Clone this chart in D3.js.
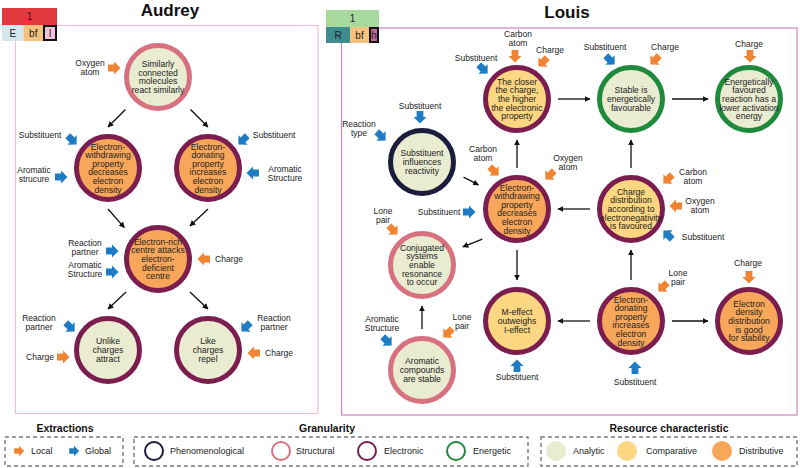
<!DOCTYPE html>
<html><head><meta charset="utf-8">
<script src="https://cdn.jsdelivr.net/npm/d3@7"></script>
<style>body{margin:0;background:#fff} svg{display:block;font-family:"Liberation Sans",Arial,sans-serif}</style>
</head><body><svg id="c" width="800" height="468"></svg>
<script>
// ================= DATA =================
const granularityTypes = ["Phenomenological", "Structural", "Electronic", "Energetic"];
const resourceTypes = ["Analytic", "Comparative", "Distributive"];
const extractionTypes = ["Local", "Global"];

// Audrey concept map (col/row are logical grid cells)
const audreyNodes = [
  {id: "A0", lines: ["Similarly", "connected", "molecules", "react similarly"], gran: "Structural", res: "Analytic", col: 1, row: 0},
  {id: "A1", lines: ["Electron-", "withdrawing", "property", "decreases", "electron", "density"], gran: "Electronic", res: "Distributive", col: 0, row: 1},
  {id: "A2", lines: ["Electron-", "donating", "property", "increases", "electron", "density"], gran: "Electronic", res: "Distributive", col: 2, row: 1},
  {id: "A3", lines: ["Electron-rich", "centre attacks", "electron-", "deficient", "centre"], gran: "Electronic", res: "Distributive", col: 1, row: 2},
  {id: "A4", lines: ["Unlike", "charges", "attract"], gran: "Electronic", res: "Analytic", col: 0, row: 3},
  {id: "A5", lines: ["Like", "charges", "repel"], gran: "Electronic", res: "Analytic", col: 2, row: 3}
];
const audreyEdges = [["A0", "A1"], ["A0", "A2"], ["A1", "A3"], ["A2", "A3"], ["A3", "A4"], ["A3", "A5"]];
const audreyInputs = [
  {node: "A0", label: ["Oxygen", "atom"], type: "Local"},
  {node: "A1", label: ["Substituent"], type: "Global"},
  {node: "A1", label: ["Aromatic", "strucure"], type: "Global"},
  {node: "A2", label: ["Substituent"], type: "Global"},
  {node: "A2", label: ["Aromatic", "Structure"], type: "Global"},
  {node: "A3", label: ["Reaction", "partner"], type: "Global"},
  {node: "A3", label: ["Aromatic", "Structure"], type: "Global"},
  {node: "A3", label: ["Charge"], type: "Local"},
  {node: "A4", label: ["Reaction", "partner"], type: "Global"},
  {node: "A4", label: ["Charge"], type: "Local"},
  {node: "A5", label: ["Reaction", "partner"], type: "Global"},
  {node: "A5", label: ["Charge"], type: "Local"}
];

// Louis concept map
const louisNodes = [
  {id: "L0", lines: ["The closer", "the charge,", "the higher", "the electronic", "property"], gran: "Electronic", res: "Comparative", col: 1, row: 0},
  {id: "L1", lines: ["Stable is", "energetically", "favourable"], gran: "Energetic", res: "Analytic", col: 2, row: 0},
  {id: "L2", lines: ["Energetically", "favoured", "reaction has a", "lower activation", "energy"], gran: "Energetic", res: "Analytic", col: 3, row: 0},
  {id: "L3", lines: ["Substituent", "influences", "reactivity"], gran: "Phenomenological", res: "Analytic", col: 0, row: 1},
  {id: "L4", lines: ["Electron-", "withdrawing", "property", "decreases", "electron", "density"], gran: "Electronic", res: "Distributive", col: 1, row: 2},
  {id: "L5", lines: ["Charge", "distribution", "according to", "electronegativity", "is favoured"], gran: "Electronic", res: "Comparative", col: 2, row: 2},
  {id: "L6", lines: ["Conjugated", "systems", "enable", "resonance", "to occur"], gran: "Structural", res: "Analytic", col: 0, row: 3},
  {id: "L7", lines: ["M-effect", "outweighs", "I-effect"], gran: "Electronic", res: "Comparative", col: 1, row: 4},
  {id: "L8", lines: ["Electron-", "donating", "property", "increases", "electron", "density"], gran: "Electronic", res: "Distributive", col: 2, row: 4},
  {id: "L9", lines: ["Electron", "density", "distribution", "is good", "for stability"], gran: "Electronic", res: "Distributive", col: 3, row: 4},
  {id: "L10", lines: ["Aromatic", "compounds", "are stable"], gran: "Structural", res: "Analytic", col: 0, row: 5}
];
const louisEdges = [["L0", "L1"], ["L1", "L2"], ["L4", "L0"], ["L5", "L1"], ["L3", "L4"], ["L5", "L4"],
  ["L4", "L6"], ["L4", "L7"], ["L8", "L5"], ["L8", "L7"], ["L8", "L9"], ["L10", "L6"]];
const louisInputs = [
  {node: "L0", label: ["Carbon", "atom"], type: "Local"},
  {node: "L0", label: ["Charge"], type: "Local"},
  {node: "L0", label: ["Substituent"], type: "Global"},
  {node: "L1", label: ["Substituent"], type: "Global"},
  {node: "L1", label: ["Charge"], type: "Local"},
  {node: "L2", label: ["Charge"], type: "Local"},
  {node: "L3", label: ["Substituent"], type: "Global"},
  {node: "L3", label: ["Reaction", "type"], type: "Global"},
  {node: "L4", label: ["Carbon", "atom"], type: "Local"},
  {node: "L4", label: ["Oxygen", "atom"], type: "Local"},
  {node: "L4", label: ["Substituent"], type: "Global"},
  {node: "L5", label: ["Carbon", "atom"], type: "Local"},
  {node: "L5", label: ["Oxygen", "atom"], type: "Local"},
  {node: "L5", label: ["Substituent"], type: "Global"},
  {node: "L6", label: ["Lone", "pair"], type: "Local"},
  {node: "L7", label: ["Substituent"], type: "Global"},
  {node: "L8", label: ["Lone", "pair"], type: "Local"},
  {node: "L8", label: ["Substituent"], type: "Global"},
  {node: "L9", label: ["Charge"], type: "Local"},
  {node: "L10", label: ["Aromatic", "Structure"], type: "Global"},
  {node: "L10", label: ["Lone", "pair"], type: "Local"}
];

// header codes
const audreyCode = {top: "1", cells: ["E", "bf", "l"]};
const louisCode = {top: "1", cells: ["R", "bf", "h"]};

// ================= LAYOUT (separate from data) =================
// edge anchor angles (exit on source, entry on target), degrees
const audreyEdgeAnchors = [[135, 270], [45, 270], [90, 223], [90, 314], [134, 270], [46, 270]];
const louisEdgeAnchors = [[0, 180], [0, 180], [270, 90], [270, 90], [20, 212], [180, 0],
  [139, 336], [90, 270], [270, 90], [180, 0], [0, 180], [270, 90]];
// input arrow placement: [dx, dy, direction, labelDx, labelDy]
const audreyInputPlace = [
  [-44, -9, 0, -24, 0], [-36, -28, 45, -32, -5], [-47, 9, 0, -27, -2], [35, -28, 135, 31, -5],
  [45, 5, 180, 32, 1], [-46, -8, 0, -27, -3], [-46, 13, 0, -27, -2], [46, 0, 180, 25, 0],
  [-38, -23, 45, -31, -4], [-45, 7, 0, -23, 0], [38, -23, 135, 28, -4], [46, 3, 180, 25, 0]
];
const louisInputPlace = [
  [-2, -43, 90, 3, -17], [26, -37, 135, 7, -12], [-34, -30, 45, -7, -11],
  [-21, -39, 45, -5, -13], [24, -39, 135, 10, -13], [1, -43, 90, -1, -12],
  [-2, -45, 90, 0, -11], [-41, -26, 45, -22, -7],
  [-23, -38, 45, -11, -17], [33, -34, 135, 18, -12], [-48, 3, 0, -30, 0],
  [37, -30, 135, 25, -2], [45, -3, 180, 24, 0], [37, 26, 225, 35, 2],
  [-29, -35, 45, -10, -14], [0, 45, 270, 0, 11], [32, -34, 135, 15, -9], [4, 47, 270, 0, 14],
  [0, -44, 90, -1, -14], [-35, -29, 45, -5, -17], [26, -37, 135, 14, -11]
];

// ================= SCALES =================
const granColor = d3.scaleOrdinal().domain(granularityTypes).range(["#1c1c3c", "#d8717f", "#7b1d4f", "#1f8a3c"]);
const resColor = d3.scaleOrdinal().domain(resourceTypes).range(["#e9ecd1", "#fcd681", "#f8a75a"]);
const extColor = d3.scaleOrdinal().domain(extractionTypes).range(["#ef8534", "#1d7cc4"]);

const axA = d3.scaleLinear().domain([0, 2]).range([108, 208]);
const ayA = d3.scaleLinear().domain([0, 3]).range([77, 350]);
const lxL = d3.scaleLinear().domain([0, 1, 2, 3]).range([422, 517, 631, 749]);
const lyL = d3.scaleLinear().domain([0, 1, 2, 3, 4, 5]).range([99, 162, 209, 265, 321, 370]);

const svg = d3.select("#c");
const defs = svg.append("defs");
defs.append("marker").attr("id", "ah").attr("viewBox", "0 0 10 10").attr("refX", 9).attr("refY", 5)
  .attr("markerWidth", 6).attr("markerHeight", 6).attr("markerUnits", "userSpaceOnUse").attr("orient", "auto")
  .append("path").attr("d", "M0,0 L10,5 L0,10 z").attr("fill", "#111");

const blockArrow = "M-6,-3.4 L0,-3.4 L0,-6.6 L6.5,0 L0,6.6 L0,3.4 L-6,3.4 Z";
const R = 31.5, LH = 8.6;

function drawPanel(nodes, edges, anchors, inputs, place, xs, ys) {
  const g = svg.append("g");
  const pos = {};
  nodes.forEach(n => pos[n.id] = [xs(n.col), ys(n.row)]);
  const rad = a => a * Math.PI / 180;
  const dist = a => 41 + 5 * Math.abs(Math.sin(2 * rad(a)));
  // edges
  g.selectAll("line.edge").data(edges).join("line").attr("class", "edge")
    .attr("x1", (e, i) => pos[e[0]][0] + dist(anchors[i][0]) * Math.cos(rad(anchors[i][0])))
    .attr("y1", (e, i) => pos[e[0]][1] + dist(anchors[i][0]) * Math.sin(rad(anchors[i][0])))
    .attr("x2", (e, i) => pos[e[1]][0] + dist(anchors[i][1]) * Math.cos(rad(anchors[i][1])))
    .attr("y2", (e, i) => pos[e[1]][1] + dist(anchors[i][1]) * Math.sin(rad(anchors[i][1])))
    .attr("stroke", "#111").attr("stroke-width", 1.3).attr("marker-end", "url(#ah)");
  // nodes
  const ng = g.selectAll("g.node").data(nodes).join("g").attr("class", "node")
    .attr("transform", n => `translate(${pos[n.id][0]},${pos[n.id][1]})`);
  ng.append("circle").attr("r", R).attr("fill", n => resColor(n.res))
    .attr("stroke", n => granColor(n.gran)).attr("stroke-width", 5);
  ng.each(function (n) {
    const t = d3.select(this).append("text").attr("text-anchor", "middle")
      .attr("font-size", 8.6).attr("fill", "#222");
    n.lines.forEach((l, i) => t.append("tspan").attr("x", 0)
      .attr("y", (i - (n.lines.length - 1) / 2) * LH).attr("dy", "0.35em").text(l));
  });
  // inputs
  const ig = g.selectAll("g.inp").data(inputs).join("g").attr("class", "inp");
  ig.append("path").attr("d", blockArrow).attr("fill", d => extColor(d.type))
    .attr("transform", (d, i) => `translate(${pos[d.node][0] + place[i][0]},${pos[d.node][1] + place[i][1]}) rotate(${place[i][2]})`);
  ig.each(function (d, i) {
    const p = place[i];
    const cx = pos[d.node][0] + p[0] + p[3], cy = pos[d.node][1] + p[1] + p[4];
    const t = d3.select(this).append("text").attr("text-anchor", "middle")
      .attr("font-size", 8.5).attr("fill", "#222");
    d.label.forEach((l, k) => t.append("tspan").attr("x", cx)
      .attr("y", cy + (k - (d.label.length - 1) / 2) * 9).attr("dy", "0.35em").text(l));
  });
}

// panels
svg.append("rect").attr("x", 15.5).attr("y", 25.5).attr("width", 302.5).attr("height", 388)
  .attr("fill", "none").attr("stroke", "#efbfdc").attr("stroke-width", 1.2);
svg.append("rect").attr("x", 341.5).attr("y", 28).attr("width", 455.5).attr("height", 387)
  .attr("fill", "none").attr("stroke", "#cc85bb").attr("stroke-width", 1.2);

svg.append("text").attr("x", 170).attr("y", 16).attr("text-anchor", "middle")
  .attr("font-size", 17).attr("font-weight", "bold").attr("fill", "#111").text("Audrey");
svg.append("text").attr("x", 567).attr("y", 17.5).attr("text-anchor", "middle")
  .attr("font-size", 17).attr("font-weight", "bold").attr("fill", "#111").text("Louis");

function drawCode(code, x, y, topFill, cellFills, widths) {
  const g = svg.append("g");
  const total = d3.sum(widths);
  g.append("rect").attr("x", x).attr("y", y).attr("width", total).attr("height", 17).attr("fill", topFill);
  g.append("text").attr("x", x + total / 2).attr("y", y + 8.5).attr("dy", "0.35em").attr("text-anchor", "middle")
    .attr("font-size", 10).attr("fill", "#222").text(code.top);
  let cx = x;
  code.cells.forEach((c, i) => {
    const last = i === code.cells.length - 1;
    g.append("rect").attr("x", cx + (last ? 1 : 0)).attr("y", y + 17 + (last ? 1 : 0))
      .attr("width", widths[i] - (last ? 2 : 0)).attr("height", 16 - (last ? 2 : 0))
      .attr("fill", cellFills[i]).attr("stroke", last ? "#111" : "none").attr("stroke-width", last ? 2 : 0);
    g.append("text").attr("x", cx + widths[i] / 2).attr("y", y + 25.5).attr("dy", "0.35em")
      .attr("text-anchor", "middle").attr("font-size", 10).attr("fill", "#222").text(c);
    cx += widths[i];
  });
}
drawCode(audreyCode, 2, 8, "#e2393f", ["#d5e6ef", "#f6c27f", "#f1c1de"], [21.5, 19.5, 14]);
drawCode(louisCode, 326, 10, "#a7d89c", ["#3e8c90", "#f6c27f", "#c4679a"], [24, 19, 10]);

drawPanel(audreyNodes, audreyEdges, audreyEdgeAnchors, audreyInputs, audreyInputPlace, axA, ayA);
drawPanel(louisNodes, louisEdges, louisEdgeAnchors, louisInputs, louisInputPlace, lxL, lyL);

// ================= LEGEND =================
const leg = svg.append("g");
function legBox(x0, x1, title, tx) {
  leg.append("rect").attr("x", x0).attr("y", 437).attr("width", x1 - x0).attr("height", 29)
    .attr("fill", "none").attr("stroke", "#7a7a7a").attr("stroke-width", 1.4).attr("stroke-dasharray", "4,3");
  leg.append("text").attr("x", tx).attr("y", 432).attr("text-anchor", "middle")
    .attr("font-size", 10.5).attr("font-weight", "bold").attr("fill", "#111").text(title);
}
legBox(5, 123, "Extractions", 65);
legBox(134, 528, "Granularity", 327);
legBox(541, 797, "Resource characteristic", 669);

const extPos = [[19, 31], [74, 85]];
extractionTypes.forEach((t, i) => {
  leg.append("path").attr("d", blockArrow).attr("fill", extColor(t))
    .attr("transform", `translate(${extPos[i][0]},451) scale(0.8)`);
  leg.append("text").attr("x", extPos[i][1]).attr("y", 451).attr("dy", "0.35em")
    .attr("font-size", 9).attr("fill", "#222").text(t);
});
const granPos = [[154, 170], [281, 296], [367, 384], [456, 473]];
granularityTypes.forEach((t, i) => {
  leg.append("circle").attr("cx", granPos[i][0]).attr("cy", 451).attr("r", 9)
    .attr("fill", "none").attr("stroke", granColor(t)).attr("stroke-width", 2);
  leg.append("text").attr("x", granPos[i][1]).attr("y", 451).attr("dy", "0.35em")
    .attr("font-size", 9).attr("fill", "#222").text(t);
});
const resPos = [[556, 573], [627, 646], [722, 739]];
resourceTypes.forEach((t, i) => {
  leg.append("circle").attr("cx", resPos[i][0]).attr("cy", 451).attr("r", 10).attr("fill", resColor(t));
  leg.append("text").attr("x", resPos[i][1]).attr("y", 451).attr("dy", "0.35em")
    .attr("font-size", 9).attr("fill", "#222").text(t);
});
</script></body></html>
